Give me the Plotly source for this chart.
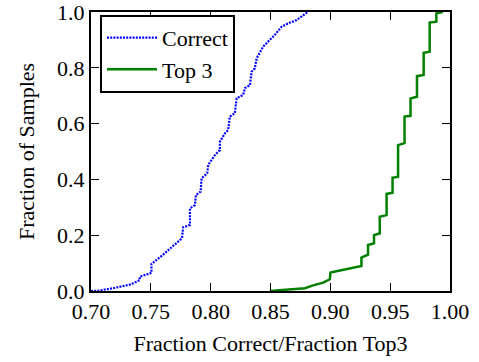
import plotly.graph_objects as go

# Empirical CDF vertices (sorted score, cumulative fraction of samples)
correct_x = [0.700, 0.7058, 0.7186, 0.7336, 0.7407, 0.7407, 0.7505, 0.7505, 0.761, 0.7714,
             0.776, 0.777, 0.7827, 0.7827, 0.7868, 0.7877, 0.7916, 0.7924, 0.7971, 0.798,
             0.8035, 0.8077, 0.8077, 0.8119, 0.8146, 0.816, 0.8202, 0.8217, 0.8272, 0.8286,
             0.8328, 0.8342, 0.8369, 0.8384, 0.8439, 0.848, 0.8536, 0.8592, 0.8647, 0.8717,
             0.8801, 0.8812]
correct_y = [0.000, 0.001, 0.010, 0.024, 0.039, 0.051, 0.065, 0.097, 0.133, 0.174,
             0.189, 0.228, 0.237, 0.296, 0.308, 0.344, 0.356, 0.404, 0.422, 0.452,
             0.487, 0.505, 0.535, 0.565, 0.577, 0.625, 0.637, 0.691, 0.703, 0.727,
             0.738, 0.786, 0.798, 0.834, 0.876, 0.894, 0.918, 0.947, 0.959, 0.971,
             0.995, 1.000]

top3_x = [0.8495, 0.8787, 0.8856, 0.894, 0.8996, 0.9001, 0.926, 0.926, 0.9315, 0.9315,
          0.9365, 0.9365, 0.9413, 0.9413, 0.947, 0.947, 0.952, 0.952, 0.9566, 0.9566,
          0.962, 0.962, 0.967, 0.967, 0.9724, 0.9724, 0.978, 0.978, 0.983, 0.983,
          0.9886, 0.9886, 0.994]
top3_y = [0.000, 0.010, 0.020, 0.030, 0.042, 0.066, 0.090, 0.120, 0.130, 0.165,
          0.171, 0.200, 0.207, 0.266, 0.272, 0.348, 0.352, 0.406, 0.410, 0.523,
          0.530, 0.625, 0.628, 0.690, 0.696, 0.770, 0.774, 0.854, 0.858, 0.962,
          0.965, 0.995, 1.000]

x_ticks = [0.70, 0.75, 0.80, 0.85, 0.90, 0.95, 1.00]
y_ticks = [0.0, 0.2, 0.4, 0.6, 0.8, 1.0]

FONT = "Liberation Serif"
TXT = dict(family=FONT, size=22, color="black")

fig = go.Figure()
fig.add_trace(go.Scatter(
    x=correct_x, y=correct_y, mode="lines", name="Correct",
    line=dict(color="#0000ff", width=2.2, dash="2px,1.2px"),
))
fig.add_trace(go.Scatter(
    x=top3_x, y=top3_y, mode="lines", name="Top 3",
    line=dict(color="#008000", width=2.5),
))

fig.update_layout(
    template="none",
    width=479, height=362,
    margin=dict(l=91, r=29, t=12, b=71),
    paper_bgcolor="white", plot_bgcolor="white",
    font=TXT,
    showlegend=True,
    legend=dict(
        x=0.025, y=0.99, xanchor="left", yanchor="top",
        bgcolor="white", bordercolor="black", borderwidth=2,
        font=TXT, itemwidth=50, tracegroupgap=0,
    ),
    xaxis=dict(
        range=[0.70, 1.00], tickvals=x_ticks, tickformat=".2f",
        showline=True, linecolor="black", linewidth=2, mirror="ticks",
        ticks="inside", ticklen=8, tickwidth=1, tickcolor="black",
        showgrid=False, zeroline=False, tickfont=TXT, ticklabeloverflow="allow",
        title=dict(text="Fraction Correct/Fraction Top3", font=TXT, standoff=12),
    ),
    yaxis=dict(
        range=[0.0, 1.0], tickvals=y_ticks, tickformat=".1f",
        showline=True, linecolor="black", linewidth=2, mirror="ticks",
        ticks="inside", ticklen=8, tickwidth=1, tickcolor="black",
        showgrid=False, zeroline=False, tickfont=TXT, ticklabeloverflow="allow",
        title=dict(text="Fraction of Samples", font=TXT, standoff=16),
    ),
)

fig.write_html("out.html")
